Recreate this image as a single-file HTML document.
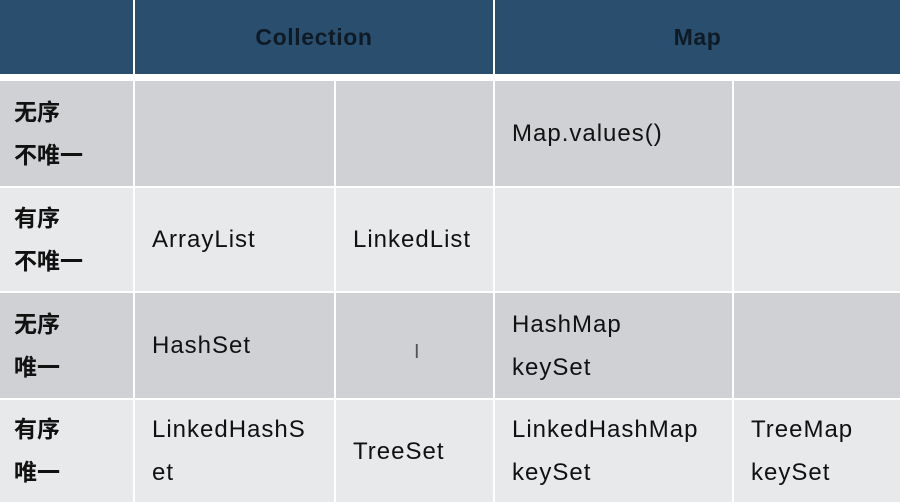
<!DOCTYPE html>
<html><head><meta charset="utf-8"><style>
body{margin:0;width:900px;height:502px;background:#fff;position:relative;overflow:hidden;font-family:"Liberation Sans","Noto Sans CJK SC",sans-serif;}
.c{position:absolute;box-sizing:border-box;display:flex;flex-direction:column;justify-content:center;font-size:24px;color:#111;line-height:43px;letter-spacing:1px}
.h{background:#2a4f6e;color:#0e1a26;font-weight:bold;font-size:23px;align-items:center;letter-spacing:0.6px}
.d{background:#cfd1d5}.l{background:#e8e9eb}
.lab{font-weight:bold;padding-left:14px;font-size:23px;letter-spacing:0}
.t{padding-left:17px}
</style></head><body>
<div class="c h" style="left:0;top:0;width:133px;height:74px"></div>
<div class="c h" style="left:135px;top:0;width:358px;height:74px">Collection</div>
<div class="c h" style="left:495px;top:0;width:405px;height:74px">Map</div>

<div class="c d lab" style="left:0;top:81px;width:133px;height:105px"><div>无序</div><div>不唯一</div></div>
<div class="c d" style="left:135px;top:81px;width:199px;height:105px"></div>
<div class="c d" style="left:336px;top:81px;width:157px;height:105px"></div>
<div class="c d t" style="left:495px;top:81px;width:237px;height:105px">Map.values()</div>
<div class="c d" style="left:734px;top:81px;width:166px;height:105px"></div>

<div class="c l lab" style="left:0;top:188px;width:133px;height:103px"><div>有序</div><div>不唯一</div></div>
<div class="c l t" style="left:135px;top:188px;width:199px;height:103px">ArrayList</div>
<div class="c l t" style="left:336px;top:188px;width:157px;height:103px">LinkedList</div>
<div class="c l" style="left:495px;top:188px;width:237px;height:103px"></div>
<div class="c l" style="left:734px;top:188px;width:166px;height:103px"></div>

<div class="c d lab" style="left:0;top:293px;width:133px;height:105px"><div>无序</div><div>唯一</div></div>
<div class="c d t" style="left:135px;top:293px;width:199px;height:105px">HashSet</div>
<div class="c d" style="left:336px;top:293px;width:157px;height:105px"><span style="position:absolute;left:78px;top:38px;font-size:20px;color:#555">I</span></div>
<div class="c d t" style="left:495px;top:293px;width:237px;height:105px"><div>HashMap</div><div>keySet</div></div>
<div class="c d" style="left:734px;top:293px;width:166px;height:105px"></div>

<div class="c l lab" style="left:0;top:400px;width:133px;height:102px"><div>有序</div><div>唯一</div></div>
<div class="c l t" style="left:135px;top:400px;width:199px;height:102px"><div>LinkedHashS</div><div>et</div></div>
<div class="c l t" style="left:336px;top:400px;width:157px;height:102px">TreeSet</div>
<div class="c l t" style="left:495px;top:400px;width:237px;height:102px"><div>LinkedHashMap</div><div>keySet</div></div>
<div class="c l t" style="left:734px;top:400px;width:166px;height:102px"><div>TreeMap</div><div>keySet</div></div>
</body></html>
